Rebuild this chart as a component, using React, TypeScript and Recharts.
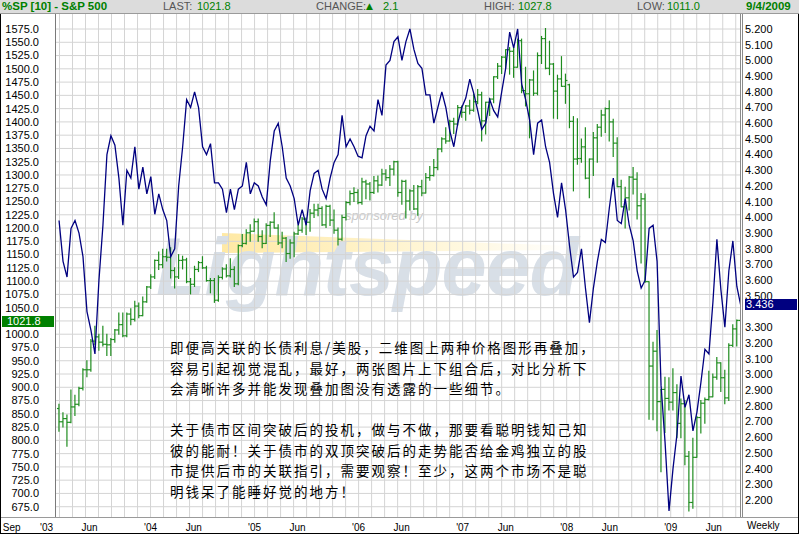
import { ComposedChart, Bar, Line, XAxis, YAxis, CartesianGrid } from 'recharts'

const W = 799
const H = 534

// bi-weekly bars (Friday closes), 14 Feb 2003 .. 4 Sep 2009
const FIRST_FRIDAY = '2003-02-14'
const BAR_DAYS = 14

// S&P 500, one row per year
const spOpen = [
  860, 835, 841, 834, 863, 868, 898, 933, 933, 987, 995, 985, 981, 980, 990, 1008, 1018, 997, 1038, 1028, 1053, 1035, 1061,
  1089, 1108, 1139, 1131, 1146, 1145, 1120, 1108, 1139, 1140, 1099, 1094, 1122, 1135, 1125, 1101, 1101, 1064, 1107, 1123, 1110, 1122, 1095, 1167, 1171, 1191, 1194,
  1212, 1184, 1171, 1205, 1211, 1200, 1172, 1181, 1152, 1172, 1189, 1196, 1217, 1211, 1228, 1234, 1237, 1206, 1241, 1215, 1196, 1179, 1220, 1248, 1265, 1267,
  1248, 1287, 1283, 1267, 1289, 1281, 1302, 1295, 1311, 1325, 1267, 1288, 1251, 1270, 1236, 1278, 1266, 1295, 1299, 1314, 1349, 1368, 1364, 1401, 1396, 1427,
  1418, 1430, 1422, 1438, 1451, 1402, 1437, 1443, 1485, 1505, 1522, 1536, 1533, 1503, 1553, 1459, 1453, 1479, 1454, 1525, 1557, 1501, 1509, 1458, 1481, 1467,
  1470, 1401, 1330, 1331, 1353, 1294, 1330, 1370, 1390, 1413, 1425, 1400, 1360, 1278, 1240, 1257, 1296, 1292, 1242, 1255, 1099, 940, 968, 873, 896, 879,
  872, 890, 832, 869, 770, 683, 768, 843, 870, 877, 882, 919, 946, 918, 880, 979, 1010, 1026,
]
const spHigh = [
  868, 852, 848, 895, 885, 900, 935, 950, 990, 1015, 1000, 1015, 1000, 992, 1009, 1040, 1040, 1040, 1048, 1062, 1059, 1070, 1090,
  1112, 1140, 1155, 1160, 1160, 1163, 1125, 1150, 1147, 1143, 1105, 1128, 1137, 1146, 1128, 1105, 1105, 1110, 1125, 1131, 1142, 1127, 1168, 1188, 1197, 1206, 1217,
  1217, 1195, 1208, 1212, 1229, 1206, 1192, 1182, 1178, 1192, 1205, 1220, 1219, 1235, 1245, 1245, 1240, 1243, 1243, 1234, 1200, 1224, 1250, 1270, 1276, 1272,
  1294, 1290, 1286, 1297, 1298, 1311, 1310, 1318, 1326, 1326, 1290, 1290, 1272, 1280, 1280, 1290, 1303, 1316, 1329, 1350, 1370, 1389, 1403, 1407, 1431, 1430,
  1431, 1441, 1452, 1461, 1456, 1437, 1444, 1485, 1510, 1523, 1536, 1540, 1540, 1556, 1556, 1503, 1480, 1496, 1530, 1561, 1576, 1552, 1510, 1488, 1523, 1490,
  1471, 1410, 1406, 1368, 1389, 1330, 1380, 1395, 1422, 1426, 1440, 1405, 1370, 1290, 1277, 1297, 1314, 1304, 1265, 1264, 1099, 985, 1007, 896, 919, 918,
  935, 905, 878, 875, 779, 804, 845, 875, 880, 930, 925, 956, 946, 932, 982, 1018, 1027, 1039,
]
const spLow = [
  817, 825, 789, 833, 847, 865, 895, 920, 930, 980, 970, 978, 960, 960, 985, 1000, 995, 995, 1018, 1025, 1031, 1035, 1060,
  1086, 1105, 1122, 1125, 1138, 1106, 1087, 1105, 1123, 1097, 1076, 1090, 1118, 1124, 1100, 1078, 1060, 1062, 1104, 1108, 1108, 1090, 1093, 1165, 1170, 1175, 1194,
  1175, 1163, 1171, 1184, 1200, 1169, 1163, 1137, 1143, 1146, 1188, 1192, 1188, 1194, 1220, 1223, 1205, 1201, 1205, 1190, 1168, 1177, 1215, 1244, 1250, 1246,
  1245, 1255, 1253, 1265, 1268, 1280, 1290, 1280, 1300, 1260, 1245, 1219, 1234, 1235, 1224, 1261, 1266, 1290, 1298, 1310, 1344, 1360, 1364, 1378, 1394, 1409,
  1403, 1415, 1420, 1434, 1364, 1377, 1412, 1436, 1482, 1491, 1501, 1490, 1484, 1503, 1455, 1430, 1370, 1450, 1451, 1510, 1500, 1489, 1407, 1406, 1467, 1435,
  1389, 1270, 1320, 1324, 1293, 1257, 1299, 1324, 1373, 1380, 1364, 1335, 1278, 1240, 1200, 1234, 1264, 1217, 1134, 1098, 840, 839, 818, 741, 815, 857,
  857, 805, 805, 754, 667, 672, 768, 814, 832, 876, 882, 915, 892, 869, 875, 977, 978, 992,
]
const spClose = [
  835, 841, 834, 863, 868, 898, 933, 933, 987, 995, 985, 981, 980, 990, 1008, 1018, 997, 1038, 1028, 1053, 1035, 1061, 1089,
  1108, 1139, 1131, 1146, 1145, 1120, 1108, 1139, 1140, 1099, 1094, 1122, 1135, 1125, 1101, 1101, 1064, 1107, 1123, 1110, 1122, 1095, 1167, 1171, 1191, 1194, 1212,
  1184, 1171, 1205, 1211, 1200, 1172, 1181, 1152, 1172, 1189, 1196, 1217, 1211, 1228, 1234, 1237, 1206, 1241, 1215, 1196, 1179, 1220, 1248, 1265, 1267, 1248,
  1287, 1283, 1267, 1289, 1281, 1302, 1295, 1311, 1325, 1267, 1288, 1251, 1270, 1236, 1278, 1266, 1295, 1299, 1314, 1349, 1368, 1364, 1401, 1396, 1427, 1418,
  1430, 1422, 1438, 1451, 1402, 1437, 1443, 1485, 1505, 1522, 1536, 1533, 1503, 1553, 1459, 1453, 1479, 1454, 1525, 1557, 1501, 1509, 1458, 1481, 1467, 1478,
  1401, 1330, 1331, 1353, 1294, 1330, 1370, 1390, 1413, 1425, 1400, 1360, 1278, 1240, 1257, 1296, 1292, 1242, 1255, 1099, 940, 968, 873, 896, 879, 872,
  890, 832, 869, 770, 683, 768, 843, 870, 877, 882, 919, 946, 918, 880, 979, 1010, 1026, 1021.8,
]

// 10-year treasury yield (%)
const tnx = [
  3.98, 3.72, 3.62, 3.93, 3.98, 3.9, 3.75, 3.4, 3.28, 3.13, 3.6, 3.95, 4.4, 4.52, 4.46, 4.25, 3.95, 4.3, 4.25, 4.45, 4.18, 4.32, 4.15,
  4.26, 4.02, 4.15, 4.05, 3.98, 3.75, 3.8, 4.2, 4.45, 4.75, 4.7, 4.8, 4.7, 4.45, 4.4, 4.47, 4.22, 4.22, 4.18, 4.03, 4.18, 4.05, 4.18, 4.2, 4.35, 4.15, 4.22,
  4.2, 4.13, 4.08, 4.36, 4.55, 4.6, 4.45, 4.25, 4.2, 4.12, 3.95, 4.05, 3.95, 4.17, 4.28, 4.3, 4.18, 4.12, 4.25, 4.35, 4.4, 4.65, 4.45, 4.5, 4.45, 4.39,
  4.38, 4.52, 4.58, 4.55, 4.75, 4.65, 4.97, 5.0, 5.12, 5.15, 5.0, 5.12, 5.2, 5.07, 4.98, 4.95, 4.78, 4.78, 4.6, 4.7, 4.8, 4.7, 4.55, 4.45, 4.6, 4.7,
  4.76, 4.88, 4.79, 4.68, 4.56, 4.6, 4.75, 4.68, 4.64, 4.8, 4.95, 5.18, 5.08, 5.2, 4.85, 4.75, 4.62, 4.4, 4.6, 4.62, 4.45, 4.35, 4.15, 4.0, 4.22, 4.05,
  3.82, 3.62, 3.65, 3.8, 3.55, 3.33, 3.55, 3.72, 3.86, 3.84, 4.06, 4.25, 3.98, 3.96, 4.12, 3.95, 3.85, 3.66, 3.55, 3.6, 3.93, 3.95, 3.72, 2.93, 2.57, 2.13,
  2.4, 2.62, 2.99, 2.79, 2.87, 2.64, 2.76, 2.95, 3.16, 3.13, 3.46, 3.86, 3.54, 3.3, 3.66, 3.85, 3.56, 3.436,
]

const xTickMonths = ['2002-09', '2003-01', '2003-06', '2004-01', '2004-06', '2005-01', '2005-06', '2006-01', '2006-06', '2007-01', '2007-06', '2008-01', '2008-06', '2009-01', '2009-06']
const xTickLabels = ['Sep', "'03", 'Jun', "'04", 'Jun', "'05", 'Jun', "'06", 'Jun', "'07", 'Jun', "'08", 'Jun', "'09", 'Jun']

const spTicks: number[] = []
for (let v = 675; v <= 1575; v += 25) spTicks.push(v)
const tnxTicks: number[] = []
for (let i = 22; i <= 52; i++) tnxTicks.push(i / 10)

// last values, flagged on the axes (they cover the tick behind them)
const SP_LAST = 1021.8
const TNX_LAST = 3.436
const spHidden = [1025]
const tnxHidden = [3.4]

const note1 = [
  '即便高关联的长债利息/美股，二维图上两种价格图形再叠加，',
  '容易引起视觉混乱，最好，两张图片上下组合后，对比分析下',
  '会清晰许多并能发现叠加图没有透露的一些细节。',
]
const note2 = [
  '关于债市区间突破后的投机，做与不做，那要看聪明钱知己知',
  '彼的能耐！关于债市的双顶突破后的走势能否给金鸡独立的股',
  '市提供后市的关联指引，需要观察！至少，这两个市场不是聪',
  '明钱呆了能睡好觉的地方！',
]

// axis ranges
const X_MIN = 2003.0913
const X_MAX = 2009.6755
const SP_MIN = 655.6
const SP_MAX = 1603.3
const TNX_MIN = 2.0917
const TNX_MAX = 5.2955

const GREEN = '#1f8c1f'
const NAVY = '#000080'
const FONT = '"Liberation Sans", Arial, sans-serif'

function yearFrac(ms: number) {
  const y = new Date(ms).getUTCFullYear()
  const a = Date.UTC(y, 0, 1)
  const b = Date.UTC(y + 1, 0, 1)
  return y + (ms - a) / (b - a)
}

const start = Date.parse(FIRST_FRIDAY + 'T00:00:00Z')
const data = spClose.map((c, i) => ({
  t: yearFrac(start + i * BAR_DAYS * 86400000),
  range: [spLow[i], spHigh[i]],
  open: spOpen[i],
  high: spHigh[i],
  low: spLow[i],
  close: c,
  tnx: tnx[i],
}))

const xTicks = xTickMonths.map((m) => yearFrac(Date.parse(m + '-01T00:00:00Z')))

// vertical grid every 1.5 months
const gridT: number[] = []
for (let k = 2003 * 8; k <= 2010 * 8; k++) {
  const t = k / 8
  if (t > X_MIN && t < X_MAX) gridT.push(t)
}

function OhlcShape(props: any) {
  const { x, y, width, height, payload } = props
  if (x == null || !payload) return null
  const cx = x + width / 2
  const top = Math.min(y, y + height)
  const h = Math.abs(height)
  const span = payload.high - payload.low || 1
  const yOf = (v: number) => top + (h * (payload.high - v)) / span
  return (
    <g stroke={GREEN} strokeWidth={1.2}>
      <line x1={cx} x2={cx} y1={top - 0.5} y2={top + h + 0.5} />
      <line x1={cx - 2} x2={cx} y1={yOf(payload.open)} y2={yOf(payload.open)} />
      <line x1={cx} x2={cx + 2} y1={yOf(payload.close)} y2={yOf(payload.close)} />
    </g>
  )
}

function XTick(props: any) {
  const { x, y, payload } = props
  const i = xTicks.findIndex((t) => Math.abs(t - payload.value) < 1e-6)
  return (
    <text x={x} y={y + 10} textAnchor="middle" dominantBaseline="central" fontSize={10} fontFamily={FONT} fill="#000">
      {i >= 0 ? xTickLabels[i] : ''}
    </text>
  )
}

const abs = (left: number, top: number, extra: any = {}) => ({ position: 'absolute' as const, left, top, ...extra })

export default function App() {
  return (
    <div style={{ position: 'relative', width: W, height: H, background: '#fff', overflow: 'hidden', fontFamily: FONT }}>
      <style>{'body{margin:0}'}</style>

      {/* watermark */}
      <div style={abs(345, 208, { fontSize: 13, fontStyle: 'italic', color: '#c9c9c9' })}>sponsored by</div>
      <div
        style={abs(222, 233, {
          width: 352,
          height: 20,
          background: 'linear-gradient(to right, rgba(255,232,160,0.95), rgba(255,244,205,0.6) 70%, rgba(255,250,230,0))',
          clipPath: 'polygon(0 0, 100% 65%, 100% 85%, 0 100%)',
        })}
      />
      <div
        style={abs(156, 222, {
          fontSize: 81,
          fontWeight: 'bold',
          fontStyle: 'italic',
          color: '#d8dfe7',
          lineHeight: '90px',
          letterSpacing: -1,
          whiteSpace: 'nowrap',
        })}
      >
        Lightspeed
      </div>

      <div style={abs(0, 0)}>
        <ComposedChart width={W} height={H} data={data} margin={{ top: 14, right: 0, bottom: 0, left: 0 }}>
          <CartesianGrid
            yAxisId="left"
            stroke="#d4d4d4"
            horizontalValues={spTicks}
            verticalValues={gridT}
          />
          <XAxis
            dataKey="t"
            type="number"
            domain={[X_MIN, X_MAX]}
            allowDataOverflow
            ticks={xTicks}
            interval={0}
            tick={(p: any) => <XTick {...p} />}
            tickLine={false}
            axisLine={false}
            tickSize={0}
            tickMargin={0}
            height={17}
          />
          <YAxis
            yAxisId="left"
            domain={[SP_MIN, SP_MAX]}
            allowDataOverflow
            ticks={spTicks}
            interval={0}
            width={56}
            tickLine={false}
            axisLine={false}
            tickSize={0}
            tickMargin={17}
            tickFormatter={(v: number) => (spHidden.includes(v) ? '' : v.toFixed(1))}
            tick={{ fontSize: 11, fill: '#000', fontFamily: FONT }}
          />
          <YAxis
            yAxisId="right"
            orientation="right"
            domain={[TNX_MIN, TNX_MAX]}
            allowDataOverflow
            ticks={tnxTicks}
            interval={0}
            width={58}
            tickLine={false}
            axisLine={false}
            tickSize={0}
            tickMargin={4}
            tickFormatter={(v: number) => (tnxHidden.some((h) => Math.abs(h - v) < 1e-9) ? '' : v.toFixed(3))}
            tick={{ fontSize: 11, fill: '#000', fontFamily: FONT, textAnchor: 'start' }}
          />
          <Bar yAxisId="left" dataKey="range" shape={OhlcShape} isAnimationActive={false} />
          <Line
            yAxisId="right"
            type="linear"
            dataKey="tnx"
            stroke={NAVY}
            strokeWidth={1.3}
            dot={false}
            activeDot={false}
            isAnimationActive={false}
          />
        </ComposedChart>
      </div>

      {/* frame lines */}
      <div style={abs(55, 14, { width: 1, height: 503, background: '#7a7a7a' })} />
      <div style={abs(740, 14, { width: 1, height: 503, background: '#8a8a8a' })} />
      <div style={abs(742, 14, { width: 1, height: 503, background: '#8a8a8a' })} />
      <div style={abs(0, 517, { width: W, height: 1, background: '#9a9a9a' })} />
      <div style={abs(0, 0, { width: W, height: H, boxSizing: 'border-box', borderLeft: '1px solid #000', borderRight: '1px solid #000', borderBottom: '1px solid #000' })} />

      {/* header */}
      <div style={abs(0, 0, { width: W, height: 13, background: '#dcdcdc', borderBottom: '1px solid #9a9a9a', fontSize: 11, lineHeight: '13px', color: '#555', whiteSpace: 'nowrap' })}>
        <span style={abs(2, 0, { color: '#008000', fontWeight: 'bold', fontSize: 11.5 })}>%SP [10] - S&amp;P 500</span>
        <span style={abs(163, 0)}>LAST:</span>
        <span style={abs(197, 0, { color: '#008000' })}>{SP_LAST.toFixed(1)}</span>
        <span style={abs(316, 0)}>CHANGE:</span>
        <span style={abs(366, 0, { color: '#008000', fontSize: 9, fontFamily: '"DejaVu Sans", sans-serif' })}>▲</span>
        <span style={abs(383, 0, { color: '#008000' })}>2.1</span>
        <span style={abs(484, 0)}>HIGH:</span>
        <span style={abs(518, 0, { color: '#008000' })}>1027.8</span>
        <span style={abs(637, 0)}>LOW:</span>
        <span style={abs(667, 0, { color: '#008000' })}>1011.0</span>
        <span style={abs(746, 0, { color: '#008000', fontWeight: 'bold', fontSize: 11.5 })}>9/4/2009</span>
      </div>

      {/* last-value flags */}
      <div style={abs(2, 316, { width: 52, height: 11, background: '#008000', color: '#fff', fontSize: 11, lineHeight: '11px', paddingLeft: 5, boxSizing: 'border-box' })}>
        {SP_LAST.toFixed(1)}
      </div>
      <div style={abs(745, 299, { width: 52, height: 11, background: NAVY, color: '#fff', fontSize: 11, lineHeight: '11px', paddingLeft: 1, boxSizing: 'border-box' })}>
        {TNX_LAST.toFixed(3)}
      </div>

      <div style={abs(747, 520, { fontSize: 10, lineHeight: '12px' })}>Weekly</div>

      {/* annotation */}
      <div
        style={abs(170, 337, {
          fontFamily: '"Noto Sans CJK SC", sans-serif',
          fontSize: 13.5,
          letterSpacing: 2,
          lineHeight: '20.5px',
          color: '#000',
          whiteSpace: 'nowrap',
        })}
      >
        {note1.map((s) => (
          <div key={s}>{s}</div>
        ))}
        <div>&nbsp;</div>
        {note2.map((s) => (
          <div key={s}>{s}</div>
        ))}
      </div>
    </div>
  )
}
